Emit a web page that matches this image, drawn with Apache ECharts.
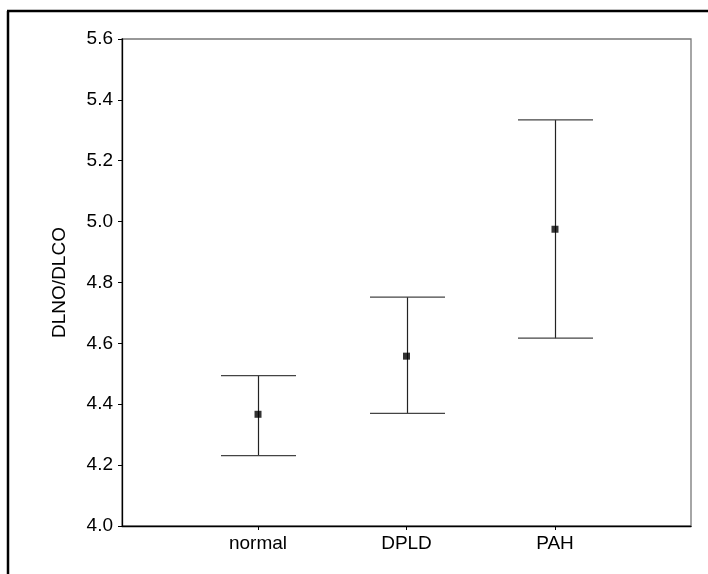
<!DOCTYPE html>
<html>
<head>
<meta charset="utf-8">
<script src="https://cdn.jsdelivr.net/npm/echarts@6/dist/echarts.min.js"></script>
<style>html,body{margin:0;padding:0;background:#fff;}#c{width:708px;height:574px;}</style>
</head>
<body>
<div id="c"></div>
<script>
var categories = ['normal', 'DPLD', 'PAH'];
var positions = [1, 2, 3];
var means = [4.367, 4.558, 4.975];
var lowers = [4.231, 4.370, 4.617];
var uppers = [4.494, 4.752, 5.334];
var yTicks = [4.0, 4.2, 4.4, 4.6, 4.8, 5.0, 5.2, 5.4, 5.6];

var barData = positions.map(function (p, i) { return [p, lowers[i], uppers[i]]; });
var meanData = positions.map(function (p, i) { return [p, means[i]]; });

var chart = echarts.init(document.getElementById('c'), null, { renderer: 'canvas' });
var font = '"Liberation Sans", Arial, sans-serif';
chart.setOption({
  backgroundColor: '#ffffff',
  animation: false,
  grid: { left: 122, right: 17, top: 39, bottom: 48, show: true, borderColor: '#777777', borderWidth: 1.3, backgroundColor: 'transparent' },
  xAxis: {
    type: 'value', min: 0.084, max: 3.916,
    splitLine: { show: false },
    axisLine: { show: true, onZero: false, lineStyle: { color: '#000', width: 1.3 } },
    axisTick: { show: true, length: 4, lineStyle: { color: '#000' }, customValues: positions },
    axisLabel: { customValues: positions, color: '#000', fontSize: 19, fontFamily: font, margin: 8,
      formatter: function (v) { var i = positions.indexOf(Math.round(v)); return i >= 0 ? categories[i] : ''; } }
  },
  yAxis: {
    type: 'value', min: 4.0, max: 5.6, interval: 0.2,
    name: 'DLNO/DLCO', nameLocation: 'middle', nameGap: 53,
    nameTextStyle: { color: '#000', fontSize: 19, fontFamily: font },
    splitLine: { show: false },
    axisLine: { show: true, onZero: false, lineStyle: { color: '#000', width: 1.3 } },
    axisTick: { show: true, length: 4, inside: false, lineStyle: { color: '#000' } },
    axisLabel: { color: '#000', fontSize: 19, fontFamily: font, margin: 9,
      formatter: function (v) { return v.toFixed(1); } }
  },
  graphic: [
    { type: 'line', shape: { x1: 8, y1: 11, x2: 8, y2: 574 }, style: { stroke: '#000', lineWidth: 2.5 }, z: 100 },
    { type: 'line', shape: { x1: 7, y1: 11, x2: 708, y2: 11 }, style: { stroke: '#000', lineWidth: 2.5 }, z: 100 }
  ],
  series: [
    {
      type: 'custom',
      data: barData,
      encode: { x: 0, y: [1, 2] },
      renderItem: function (params, api) {
        var x = api.value(0);
        var lo = api.coord([x, api.value(1)]);
        var hi = api.coord([x, api.value(2)]);
        var hw = 37.5;
        var cx = Math.round(lo[0]) + 0.5;
        return {
          type: 'group',
          children: [
            { type: 'line', shape: { x1: cx, y1: hi[1], x2: cx, y2: lo[1] }, style: { stroke: '#222', lineWidth: 1.2 } },
            { type: 'line', shape: { x1: cx - hw, y1: hi[1], x2: cx + hw, y2: hi[1] }, style: { stroke: '#444', lineWidth: 1.3 } },
            { type: 'line', shape: { x1: cx - hw, y1: lo[1], x2: cx + hw, y2: lo[1] }, style: { stroke: '#444', lineWidth: 1.3 } }
          ]
        };
      },
      z: 2
    },
    {
      type: 'scatter',
      data: meanData,
      symbol: 'rect',
      symbolSize: 7,
      itemStyle: { color: '#000' },
      z: 3
    }
  ]
});
</script>
</body>
</html>
